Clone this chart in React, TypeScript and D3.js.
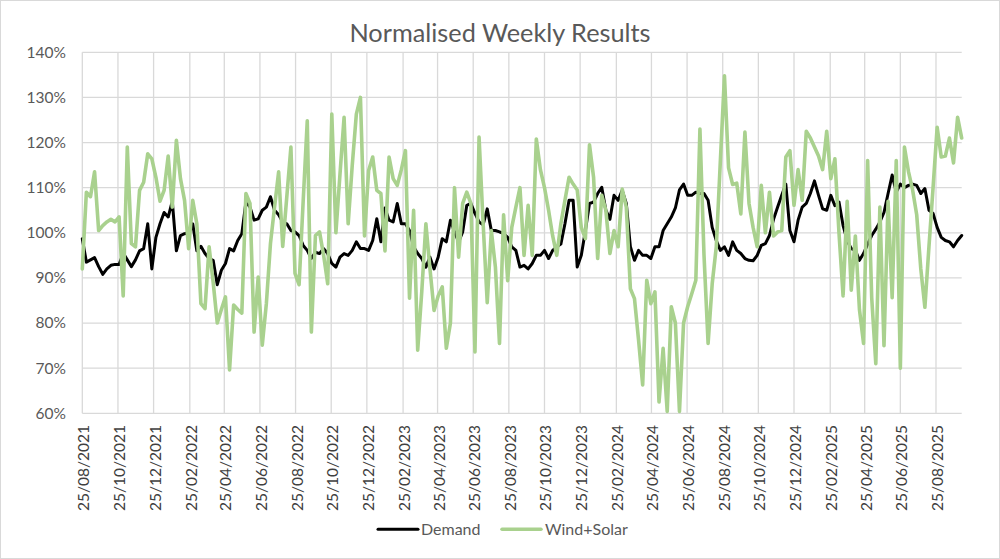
import React from "react";
import * as d3 from "d3";

const START_DATE = "25/08/2021";

const tickLabels: string[] = [
  "25/08/2021", "25/10/2021", "25/12/2021", "25/02/2022", "25/04/2022",
  "25/06/2022", "25/08/2022", "25/10/2022", "25/12/2022", "25/02/2023",
  "25/04/2023", "25/06/2023", "25/08/2023", "25/10/2023", "25/12/2023",
  "25/02/2024", "25/04/2024", "25/06/2024", "25/08/2024", "25/10/2024",
  "25/12/2024", "25/02/2025", "25/04/2025", "25/06/2025", "25/08/2025",
];

const yTicks: number[] = [60, 70, 80, 90, 100, 110, 120, 130, 140];

const seriesNames: string[] = ["Demand", "Wind+Solar"];

// weekly values (%), one per week starting 25/08/2021
const demand: number[] = [
  98.7, 93.5, 94, 94.5, 92.5, 90.8, 92, 92.8, 93, 93,
  95.5, 94, 92.5, 94, 96, 96.5, 102, 92, 99, 102,
  104.5, 103.5, 107, 96, 99.4, 99.8, 100, 102, 96, 97,
  95.4, 94.3, 93.9, 88.5, 91.7, 93.2, 96.5, 96, 98.3, 99.8,
  106.8, 105.7, 102.8, 103.1, 105, 105.7, 108, 105, 104, 102.4,
  102, 100.5, 100.2, 99.4, 97.2, 96.1, 94.3, 95.7, 95.4, 96.5,
  95.4, 93.2, 92.4, 94.6, 95.4, 95, 96.1, 98, 96.5, 96.5,
  96.1, 98.3, 103.1, 98, 105.5, 102.8, 102.4, 106.5, 102, 102,
  100.5, 96.9, 95.4, 94.3, 92.4, 94.6, 92, 94.6, 98.7, 98,
  102.8, 100.2, 98, 100.2, 106.1, 106.5, 104.3, 102.4, 101.8, 105.3,
  100.5, 100.5, 100.2, 99.8, 99, 96.9, 96.1, 92.4, 92.8, 92,
  93.2, 95, 95, 96.1, 94.3, 96.1, 96.9, 97.5, 102, 107.2,
  107.2, 92.4, 95, 100.5, 106.5, 106.8, 108.7, 110.1, 105, 103,
  108.3, 107.2, 109.4, 106.5, 96.9, 93.9, 96.1, 95, 95, 94.3,
  96.9, 96.9, 100.5, 102, 103.5, 105.5, 109.5, 110.8, 108.3, 108.3,
  109, 108.7, 108.7, 107.2, 101.2, 98.3, 96.1, 96.9, 95, 98,
  96.1, 95.4, 94.3, 93.9, 93.8, 95, 97.2, 97.6, 99.4, 103,
  105.7, 108.3, 110.8, 100.5, 98, 102.8, 105.7, 106.5, 108.7, 111.5,
  108.3, 105.3, 105, 108.3, 106, 106.8, 101.6, 98.3, 96.5, 96.1,
  93.9, 95.4, 97.5, 99.4, 100.8, 102.4, 104.5, 108.7, 112.8, 109,
  110.8, 110, 110.5, 110.8, 110.5, 108.7, 109.8, 105, 104.3, 101.2,
  99, 98.3, 98, 96.9, 98.3, 99.4,
];

const windSolar: number[] = [
  92, 109, 108, 113.5, 100.5, 101.6, 102.4, 103, 102.4, 103.5,
  86, 119, 97.6, 96.9, 109.4, 111.2, 117.5, 116.4, 112.3, 107,
  109.4, 117, 105.7, 120.5, 112, 107.2, 96.5, 107.2, 102, 84.3,
  83.2, 96.9, 89, 80, 83, 85.8, 69.6, 84, 83, 82.2,
  108.7, 106.5, 78, 90.2, 75.1, 84.3, 97.6, 105.7, 113.5, 97,
  108, 119, 91, 88.5, 107, 124.8, 78, 99.4, 100.2, 95,
  88.7, 126.3, 100, 113, 125.6, 102, 115, 126.3, 130, 99.3,
  113.8, 116.8, 109.4, 108.7, 96, 116.8, 112, 110.5, 114, 118.2,
  85.5, 105, 74, 87, 102, 92, 82.8, 86, 88, 74.4,
  80, 110, 94.6, 106.5, 109, 106.5, 73.6, 121.2, 102, 84.5,
  100.5, 92.4, 75.5, 104, 89.4, 101.2, 105.7, 110, 95, 106.1,
  95, 120.8, 114, 110, 105, 99.3, 95, 102, 107.2, 112.3,
  110.8, 109.5, 101.2, 98.7, 119.5, 112.3, 94.3, 108.3, 105, 95.4,
  100.5, 96.9, 109.7, 105.7, 87.6, 85.4, 76.2, 66.3, 89.5, 84.3,
  86.9, 62.5, 74.4, 60.4, 83.6, 80, 60.4, 80, 83.6, 86.5,
  89.5, 123, 95, 75.5, 88.7, 96.9, 116, 134.8, 114.4, 110.7,
  111, 104.2, 122.3, 106.5, 101.2, 96.9, 110.5, 100, 109, 99.3,
  100.2, 100.5, 116.8, 118.2, 106.1, 114, 107.2, 122.5, 121, 119,
  117, 114, 122.5, 112, 116.4, 100, 86, 107, 87.3, 99.3,
  83, 75.5, 116, 85.6, 71, 105.7, 75, 107, 85.6, 116,
  70, 119, 113.5, 109.5, 104, 92, 83.5, 97, 110, 123.4,
  116.8, 117, 121, 115.5, 125.6, 121,
];

const W = 1000;
const H = 559;
const FONT = "Lato, 'Open Sans', sans-serif";

export default function App() {
  const parse = d3.timeParse("%d/%m/%Y");
  const start = parse(START_DATE) as Date;
  const dates = demand.map((_, i) => d3.timeDay.offset(start, 7 * i));
  const end = dates[dates.length - 1];

  const plotLeft = 82.3;
  const plotRight = 961.7;
  const plotTop = 52.3;
  const plotBottom = 413.3;

  const x = d3.scaleTime().domain([start, end]).range([plotLeft, plotRight]);
  const y = d3.scaleLinear().domain([60, 140]).range([plotBottom, plotTop]);

  const line = d3
    .line<number>()
    .x((_, i) => x(dates[i]))
    .y((d) => y(d));

  const tickDates = tickLabels.map((t) => parse(t) as Date);

  const grid = "#d9d9d9";
  const textGray = "#595959";
  const green = "#a9d18e";

  return (
    <svg
      width={W}
      height={H}
      style={{ position: "absolute", left: 0, top: 0, background: "#fff" }}
      fontFamily={FONT}
    >
      <rect x={0.5} y={0.5} width={W - 1} height={H - 1} fill="#fff" stroke={grid} />
      <text x={500} y={42} textAnchor="middle" fontSize={25.3} fill={textGray}>
        Normalised Weekly Results
      </text>

      {yTicks.map((v) => (
        <g key={v}>
          <line x1={plotLeft} x2={plotRight} y1={y(v)} y2={y(v)} stroke={grid} strokeWidth={1.3} />
          <text x={66} y={y(v)} dy="0.35em" textAnchor="end" fontSize={15.5} fill={textGray}>
            {`${v}%`}
          </text>
        </g>
      ))}

      {tickDates.map((d, k) => (
        <g key={k}>
          <line x1={x(d)} x2={x(d)} y1={plotTop} y2={plotBottom} stroke={grid} strokeWidth={1.3} />
          <text
            transform={`translate(${x(d) + 1.5},425) rotate(-90)`}
            dy="0.35em"
            textAnchor="end"
            fontSize={15.5}
            fill="#404040"
          >
            {tickLabels[k]}
          </text>
        </g>
      ))}

      <path
        d={line(demand) || ""}
        fill="none"
        stroke="#000"
        strokeWidth={3}
        strokeLinejoin="round"
        strokeLinecap="round"
      />
      <path
        d={line(windSolar) || ""}
        fill="none"
        stroke={green}
        strokeWidth={3.6}
        strokeLinejoin="round"
        strokeLinecap="round"
      />

      <g>
        <line x1={378} x2={418} y1={529.3} y2={529.3} stroke="#000" strokeWidth={3} strokeLinecap="round" />
        <text x={421} y={535} fontSize={16} fill={textGray}>
          {seriesNames[0]}
        </text>
        <line x1={502} x2={541} y1={529.3} y2={529.3} stroke={green} strokeWidth={3.5} strokeLinecap="round" />
        <text x={545} y={535} fontSize={16} fill={textGray}>
          {seriesNames[1]}
        </text>
      </g>
    </svg>
  );
}
